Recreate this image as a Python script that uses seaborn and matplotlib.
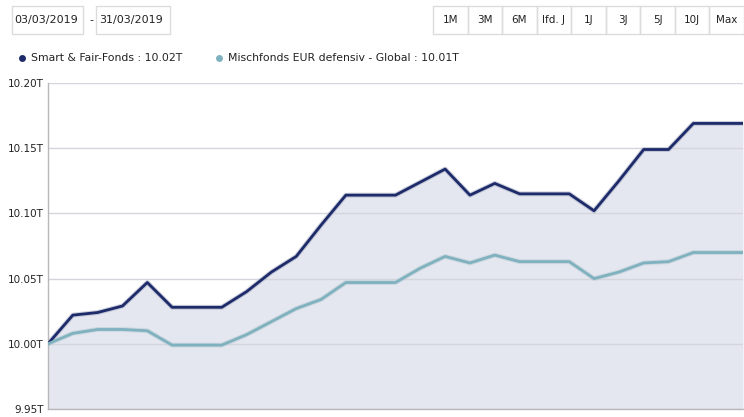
import pandas as pd
import matplotlib.pyplot as plt
import seaborn as sns
from matplotlib.patches import Rectangle
from matplotlib.lines import Line2D
from matplotlib.ticker import FuncFormatter

# daily values 03.03.2019 - 31.03.2019
days = pd.date_range("2019-03-03", "2019-03-31", freq="D")
smart_fair = [10.000, 10.022, 10.024, 10.029, 10.047, 10.028, 10.028, 10.028,
              10.040, 10.055, 10.067, 10.091, 10.114, 10.114, 10.114, 10.124,
              10.134, 10.114, 10.123, 10.115, 10.115, 10.115, 10.102, 10.125,
              10.149, 10.149, 10.169, 10.169, 10.169]
mischfonds = [10.000, 10.008, 10.011, 10.011, 10.010, 9.999, 9.999, 9.999,
              10.007, 10.017, 10.027, 10.034, 10.047, 10.047, 10.047, 10.058,
              10.067, 10.062, 10.068, 10.063, 10.063, 10.063, 10.050, 10.055,
              10.062, 10.063, 10.070, 10.070, 10.070]
series_names = ["Smart & Fair-Fonds", "Mischfonds EUR defensiv - Global"]
legend_values = ["10.02T", "10.01T"]
buttons = ["1M", "3M", "6M", "lfd. J", "1J", "3J", "5J", "10J", "Max"]
y_ticks = [9.95, 10.00, 10.05, 10.10, 10.15, 10.20]

dark = "#1e2b6a"
light = "#7fb1bf"
fill = "#e4e7f0"
txt = "#222222"

sns.set_style("white")
plt.rcParams["font.family"] = ["DejaVu Sans"]

df = pd.DataFrame({"day": list(days) * 2,
                   "value": smart_fair + mischfonds,
                   "fund": [series_names[0]] * len(days) + [series_names[1]] * len(days)})

W, H = 744, 417
fig = plt.figure(figsize=(W / 100, H / 100), dpi=100)
ax = fig.add_axes([48 / W, 8 / H, 695 / W, 326 / H])

ax.fill_between(days, smart_fair, y_ticks[0], color=fill, lw=0, zorder=1)
for t in y_ticks:
    ax.axhline(t, color="#d4d6dc", lw=1, zorder=1.5)

# soft shadow under the lines
sns.lineplot(data=df, x="day", y="value", hue="fund", palette=["#9aa0b8", "#b3c8cf"],
             lw=3.5, alpha=0.5, ax=ax, legend=False, zorder=2)
sns.lineplot(data=df, x="day", y="value", hue="fund", palette=[dark, light],
             lw=2, ax=ax, legend=False, zorder=3)

ax.set_xlim(days[0], days[-1])
ax.set_ylim(y_ticks[0], y_ticks[-1])
ax.set_yticks(y_ticks)
ax.yaxis.set_major_formatter(FuncFormatter(lambda v, p: f"{v:.2f}T"))
ax.tick_params(axis="y", labelsize=7.5, colors=txt, length=0, pad=3)
ax.set_xticks([])
ax.set_xlabel("")
ax.set_ylabel("")
for side in ["top", "right"]:
    ax.spines[side].set_visible(False)
for side in ["left", "bottom"]:
    ax.spines[side].set_color("#b8b8b8")
    ax.spines[side].set_linewidth(1)


def px(x, y):
    return x / W, 1 - y / H


def box(x0, y0, w, h):
    fig.patches.append(Rectangle(px(x0, y0 + h), w / W, h / H, transform=fig.transFigure,
                                 fill=False, ec="#dcdcdc", lw=1))


# date range boxes
box(12, 6, 71, 28)
fig.text(*px(14, 20), "03/03/2019", fontsize=8, color=txt, va="center")
fig.text(*px(91, 20), "-", fontsize=8, color=txt, va="center", ha="center")
box(96, 6, 74, 28)
fig.text(*px(99, 20), "31/03/2019", fontsize=8, color=txt, va="center")

# period buttons
bx = 433
bw = (744 - bx) / len(buttons)
for i, b in enumerate(buttons):
    box(bx + i * bw, 6, bw, 28)
    fig.text(*px(bx + (i + 0.5) * bw, 20), b, fontsize=7.5, color=txt, ha="center", va="center")

# legend
for xd, xt, c, name, val in [(22, 31, dark, series_names[0], legend_values[0]),
                             (219, 228, light, series_names[1], legend_values[1])]:
    xf, yf = px(xd, 58)
    fig.add_artist(Line2D([xf], [yf], marker="o", ms=5, color=c, mew=0,
                          transform=fig.transFigure))
    fig.text(*px(xt, 58), f"{name} : {val}", fontsize=7.8, color=txt, va="center")

fig.savefig("out.png", dpi=100)
